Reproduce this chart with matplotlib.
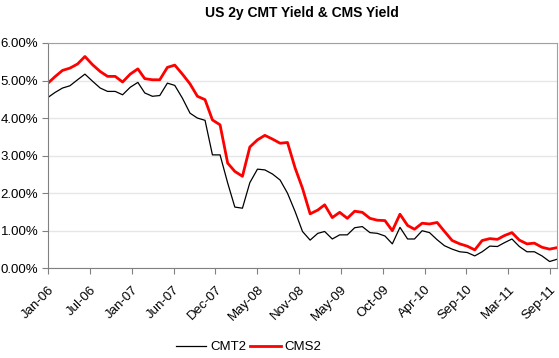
import matplotlib
matplotlib.use("Agg")
import matplotlib.pyplot as plt
import matplotlib.dates as mdates
from matplotlib.ticker import PercentFormatter
import pandas as pd

plt.rcParams['font.family'] = ['Liberation Sans', 'DejaVu Sans']

# monthly observations, Jan-06 .. Sep-11 (month end)
dates = pd.date_range('2006-01-31', periods=69, freq='ME')

# 2y CMT yield (%)
cmt2 = [4.55, 4.68, 4.80, 4.86, 5.02, 5.17, 4.98, 4.80, 4.71, 4.71,
        4.62, 4.82, 4.95, 4.67, 4.58, 4.60, 4.93, 4.87, 4.53, 4.13,
        4.00, 3.94, 3.02, 3.02, 2.27, 1.63, 1.60, 2.28, 2.64, 2.62,
        2.51, 2.35, 2.00, 1.51, 0.98, 0.75, 0.93, 0.98, 0.78, 0.89,
        0.89, 1.08, 1.11, 0.95, 0.93, 0.86, 0.65, 1.09, 0.78, 0.78,
        1.00, 0.95, 0.76, 0.60, 0.51, 0.44, 0.42, 0.33, 0.44, 0.59,
        0.58, 0.68, 0.78, 0.58, 0.44, 0.44, 0.33, 0.18, 0.24]

# 2y CMS yield (%)
cms2 = [4.93, 5.10, 5.27, 5.33, 5.44, 5.64, 5.42, 5.24, 5.11, 5.11,
        4.96, 5.17, 5.31, 5.05, 5.02, 5.02, 5.35, 5.41, 5.17, 4.91,
        4.58, 4.49, 3.95, 3.82, 2.80, 2.58, 2.45, 3.23, 3.42, 3.54,
        3.44, 3.33, 3.35, 2.67, 2.13, 1.45, 1.55, 1.69, 1.35, 1.49,
        1.33, 1.52, 1.49, 1.33, 1.28, 1.27, 1.00, 1.44, 1.14, 1.04,
        1.20, 1.18, 1.22, 0.98, 0.74, 0.65, 0.59, 0.49, 0.74, 0.79,
        0.77, 0.87, 0.95, 0.75, 0.65, 0.67, 0.56, 0.51, 0.55]

# axis ticks every 170 days from the first observation
tick_dates = pd.date_range('2006-01-31', periods=13, freq='170D')

fig = plt.figure(figsize=(5.59, 3.58), dpi=100)
ax = fig.add_axes([0.0859, 0.2506, 0.9105, 0.6294])

ax.plot(dates, cmt2, color='black', linewidth=0.9, label='CMT2')
ax.plot(dates, cms2, color='#ff0000', linewidth=2.0, label='CMS2')

ax.set_xlim(dates[0], dates[-1])
ax.set_ylim(0, 6)
ax.set_yticks(range(0, 7))
ax.yaxis.set_major_formatter(PercentFormatter(decimals=2))
ax.set_xticks(tick_dates)
ax.xaxis.set_major_formatter(mdates.DateFormatter('%b-%y'))
plt.setp(ax.get_xticklabels(), rotation=45, ha='right', rotation_mode='anchor')

ax.grid(axis='y', color='#e6e6e6', linewidth=1.0)
ax.set_axisbelow(True)
ax.tick_params(axis='both', labelsize=9.5, direction='out', length=4,
               color='#808080', pad=3)
ax.tick_params(axis='x', pad=7)
for side in ['top', 'right']:
    ax.spines[side].set_color('#a0a0a0')
for side in ['left', 'bottom']:
    ax.spines[side].set_color('#808080')

fig.text(0.541, 0.965, 'US 2y CMT Yield & CMS Yield', ha='center', va='center',
         fontsize=10, fontweight='bold')

fig.legend(loc='center', bbox_to_anchor=(0.445, 0.03), ncol=2, frameon=False,
           fontsize=9.5, handlelength=2.3, handletextpad=0.3, columnspacing=0.3,
           borderpad=0.2)

fig.savefig('out.png', dpi=100)
